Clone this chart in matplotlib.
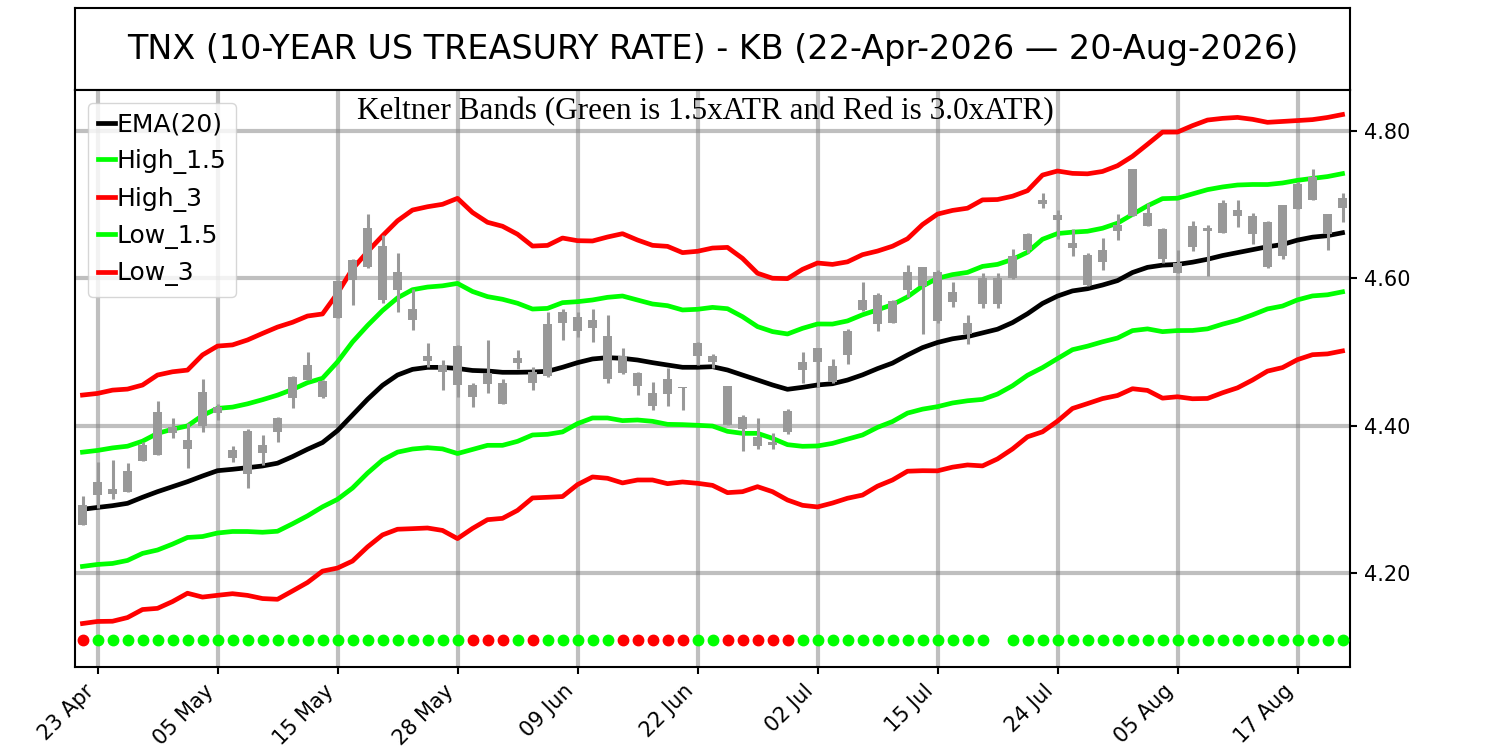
import numpy as np
import matplotlib
matplotlib.use('Agg')
import matplotlib.pyplot as plt

title = 'TNX (10-YEAR US TREASURY RATE) - KB (22-Apr-2026 \u2014 20-Aug-2026)'
subtitle = 'Keltner Bands (Green is 1.5xATR and Red is 3.0xATR)'

tick_labels = ['23 Apr', '05 May', '15 May', '28 May', '09 Jun', '22 Jun',
               '02 Jul', '15 Jul', '24 Jul', '05 Aug', '17 Aug']

opens = [4.265, 4.306, 4.314, 4.310, 4.352, 4.360, 4.398, 4.381, 4.399, 4.426,
         4.367, 4.335, 4.374, 4.392, 4.437, 4.462, 4.461, 4.546, 4.598, 4.616,
         4.644, 4.609, 4.559, 4.495, 4.482, 4.455, 4.455, 4.457, 4.458, 4.485,
         4.473, 4.467, 4.539, 4.548, 4.532, 4.522, 4.495, 4.471, 4.444, 4.443,
         4.451, 4.494, 4.495, 4.454, 4.412, 4.385, 4.374, 4.391, 4.476, 4.486,
         4.460, 4.496, 4.557, 4.578, 4.539, 4.584, 4.615, 4.609, 4.568, 4.540,
         4.565, 4.600, 4.600, 4.639, 4.701, 4.686, 4.648, 4.632, 4.622, 4.664,
         4.685, 4.689, 4.667, 4.621, 4.643, 4.669, 4.662, 4.693, 4.685, 4.616,
         4.630, 4.694, 4.738, 4.687, 4.695]
highs = [4.305, 4.351, 4.353, 4.349, 4.378, 4.433, 4.410, 4.403, 4.464, 4.430,
         4.372, 4.395, 4.387, 4.412, 4.468, 4.500, 4.462, 4.598, 4.627, 4.687,
         4.659, 4.634, 4.585, 4.512, 4.489, 4.510, 4.458, 4.516, 4.463, 4.503,
         4.480, 4.555, 4.558, 4.555, 4.559, 4.550, 4.506, 4.473, 4.460, 4.478,
         4.453, 4.514, 4.497, 4.454, 4.415, 4.410, 4.390, 4.422, 4.500, 4.505,
         4.490, 4.531, 4.595, 4.580, 4.570, 4.618, 4.616, 4.611, 4.595, 4.550,
         4.608, 4.608, 4.640, 4.662, 4.716, 4.693, 4.667, 4.634, 4.655, 4.687,
         4.748, 4.703, 4.669, 4.639, 4.678, 4.673, 4.706, 4.706, 4.689, 4.678,
         4.700, 4.731, 4.748, 4.687, 4.716]
lows = [4.265, 4.288, 4.301, 4.310, 4.352, 4.360, 4.383, 4.342, 4.392, 4.408,
        4.351, 4.315, 4.347, 4.378, 4.424, 4.462, 4.437, 4.546, 4.564, 4.614,
        4.567, 4.555, 4.530, 4.480, 4.449, 4.439, 4.426, 4.445, 4.430, 4.477,
        4.449, 4.466, 4.517, 4.521, 4.514, 4.458, 4.470, 4.442, 4.421, 4.427,
        4.421, 4.482, 4.478, 4.401, 4.365, 4.368, 4.368, 4.389, 4.458, 4.453,
        4.458, 4.484, 4.556, 4.529, 4.539, 4.575, 4.524, 4.539, 4.561, 4.511,
        4.560, 4.560, 4.599, 4.634, 4.695, 4.653, 4.631, 4.589, 4.611, 4.652,
        4.685, 4.671, 4.621, 4.608, 4.637, 4.603, 4.662, 4.670, 4.647, 4.614,
        4.626, 4.694, 4.706, 4.638, 4.676]
closes = [4.292, 4.324, 4.307, 4.338, 4.374, 4.419, 4.390, 4.368, 4.446, 4.417,
          4.356, 4.393, 4.363, 4.410, 4.466, 4.482, 4.439, 4.596, 4.625, 4.668,
          4.570, 4.584, 4.543, 4.488, 4.473, 4.508, 4.439, 4.471, 4.430, 4.492,
          4.458, 4.538, 4.554, 4.528, 4.544, 4.463, 4.472, 4.454, 4.427, 4.464,
          4.453, 4.512, 4.486, 4.401, 4.396, 4.372, 4.378, 4.420, 4.486, 4.505,
          4.481, 4.529, 4.570, 4.538, 4.569, 4.609, 4.589, 4.542, 4.582, 4.524,
          4.600, 4.565, 4.630, 4.660, 4.706, 4.679, 4.641, 4.591, 4.639, 4.673,
          4.748, 4.671, 4.626, 4.608, 4.671, 4.664, 4.703, 4.685, 4.660, 4.677,
          4.699, 4.728, 4.707, 4.660, 4.709]

ema20 = [4.2865, 4.2890, 4.2914, 4.2946, 4.3028, 4.3104, 4.3172, 4.3240, 4.3317, 4.3389,
         4.3408, 4.3430, 4.3453, 4.3491, 4.3580, 4.3680, 4.3771, 4.3933, 4.4145, 4.4358,
         4.4548, 4.4688, 4.4765, 4.4792, 4.4792, 4.4777, 4.4750, 4.4743, 4.4725, 4.4725,
         4.4729, 4.4738, 4.4793, 4.4856, 4.4906, 4.4924, 4.4915, 4.4892, 4.4856, 4.4824,
         4.4793, 4.4793, 4.4801, 4.4756, 4.4688, 4.4621, 4.4553, 4.4494, 4.4521, 4.4553,
         4.4570, 4.4620, 4.4690, 4.4775, 4.4850, 4.4960, 4.5060, 4.5130, 4.5180, 4.5210,
         4.5260, 4.5310, 4.5400, 4.5520, 4.5660, 4.5760, 4.5830, 4.5860, 4.5910, 4.5970,
         4.6080, 4.6150, 4.6180, 4.6190, 4.6220, 4.6260, 4.6310, 4.6350, 4.6390, 4.6430,
         4.6460, 4.6520, 4.6560, 4.6580, 4.6620]
atr = [0.0517, 0.0516, 0.0523, 0.0517, 0.0508, 0.0528, 0.0520, 0.0505, 0.0548, 0.0564,
       0.0563, 0.0578, 0.0600, 0.0616, 0.0608, 0.0603, 0.0582, 0.0622, 0.0661, 0.0668,
       0.0677, 0.0698, 0.0721, 0.0727, 0.0738, 0.0770, 0.0715, 0.0673, 0.0661, 0.0625,
       0.0570, 0.0570, 0.0585, 0.0552, 0.0534, 0.0546, 0.0564, 0.0543, 0.0531, 0.0537,
       0.0519, 0.0525, 0.0537, 0.0555, 0.0528, 0.0483, 0.0483, 0.0501, 0.0534, 0.0552,
       0.0540, 0.0535, 0.0544, 0.0532, 0.0529, 0.0526, 0.0557, 0.0581, 0.0581, 0.0581,
       0.0602, 0.0587, 0.0572, 0.0557, 0.0581, 0.0566, 0.0532, 0.0520, 0.0514, 0.0520,
       0.0526, 0.0557, 0.0602, 0.0599, 0.0618, 0.0630, 0.0621, 0.0612, 0.0590, 0.0563,
       0.0557, 0.0541, 0.0532, 0.0535, 0.0535]

# 'r' = red dot, 'g' = green dot, '-' = no dot
signal = ('rggggggggggggggggggggggggg'
          'rrrgrgggggrrrrrggrrrrr'
          'ggggggggggggg-ggggggggggggggggggggggg')

opens = np.array(opens)
highs = np.array(highs)
lows = np.array(lows)
closes = np.array(closes)
ema20 = np.array(ema20)
atr = np.array(atr)
x = np.arange(len(closes))

fig = plt.figure(figsize=(15, 7.5), dpi=100)
ax_t = fig.add_axes([0.05, 0.88, 0.85, 0.1093])
ax = fig.add_axes([0.05, 0.1107, 0.85, 0.7693])

ax_t.set_xticks([])
ax_t.set_yticks([])
for s in ax_t.spines.values():
    s.set_linewidth(1.5)
ax_t.text(0.5, 0.5, title, ha='center', va='center', fontsize=24,
          transform=ax_t.transAxes)

ax.plot(x, ema20, color='black', lw=3.4, label='EMA(20)', zorder=2)
ax.plot(x, ema20 + 1.5 * atr, color='lime', lw=3.4, label='High_1.5', zorder=2)
ax.plot(x, ema20 + 3.0 * atr, color='red', lw=3.4, label='High_3', zorder=2)
ax.plot(x, ema20 - 1.5 * atr, color='lime', lw=3.4, label='Low_1.5', zorder=2)
ax.plot(x, ema20 - 3.0 * atr, color='red', lw=3.4, label='Low_3', zorder=2)

# candles
body_lo = np.minimum(opens, closes)
body_hi = np.maximum(opens, closes)
ax.vlines(x, lows, highs, color='#999999', lw=2.2, zorder=3)
ax.bar(x, body_hi - body_lo, bottom=body_lo, width=0.62, color='#999999', zorder=3)

# signal dots
dot_y = 4.109
for i, c in enumerate(signal):
    if c == 'r':
        ax.plot(x[i], dot_y, 'o', color='red', ms=7.5, zorder=4)
    elif c == 'g':
        ax.plot(x[i], dot_y, 'o', color='lime', ms=7.5, zorder=4)

ax.set_xlim(-0.5, 84.5)
ax.set_ylim(4.0724, 4.8558)
ax.set_yticks([4.2, 4.4, 4.6, 4.8])
ax.set_yticklabels(['%.2f' % v for v in [4.2, 4.4, 4.6, 4.8]])
ax.yaxis.tick_right()
ax.set_xticks(np.arange(1, len(x), 8))
ax.set_xticklabels(tick_labels, rotation=45, ha='right')
ax.tick_params(labelsize=15, width=1.5, length=5, pad=5)
for s in ax.spines.values():
    s.set_linewidth(1.5)
ax.grid(True, color='gray', alpha=0.5, lw=3)
ax.set_axisbelow(True)

ax.text(0.4945, 0.988, subtitle, ha='center', va='top', fontsize=22.5,
        family='Liberation Serif', transform=ax.transAxes)
ax.legend(loc='upper left', fontsize=18, handlelength=0.7, handletextpad=0.05)

fig.savefig('out.png', dpi=100)
